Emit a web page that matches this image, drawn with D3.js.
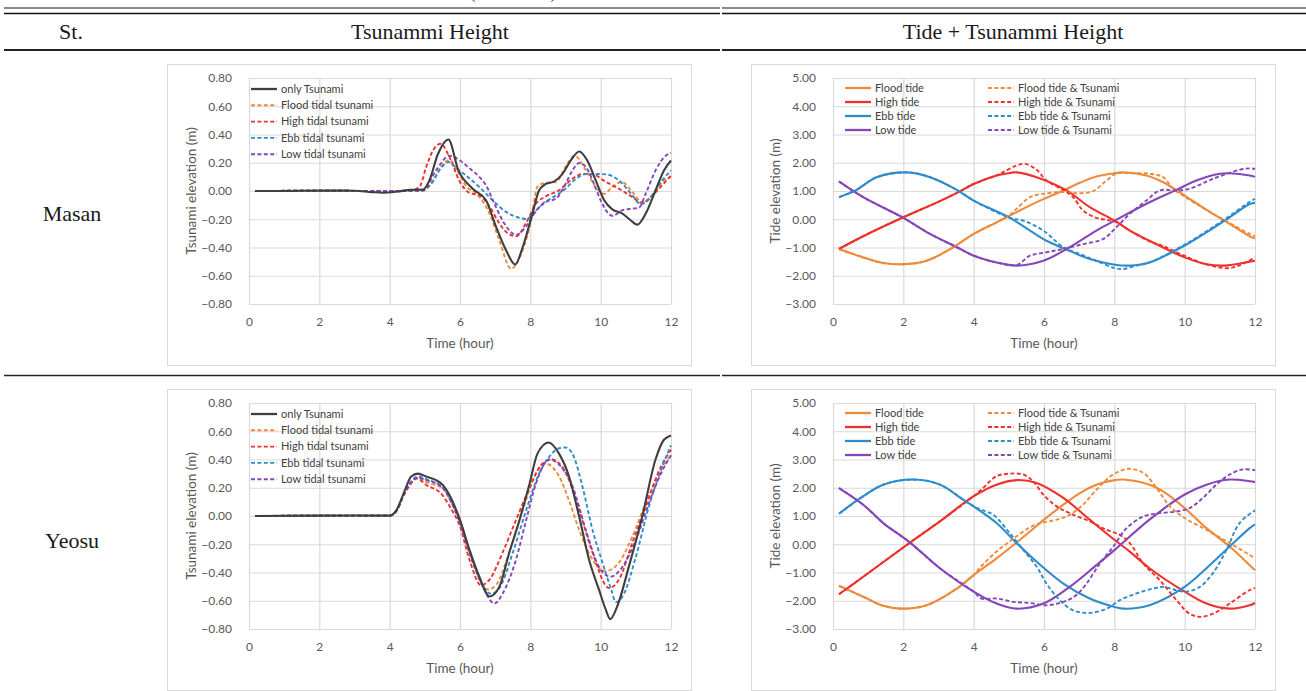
<!DOCTYPE html>
<html>
<head>
<meta charset="utf-8">
<script src="https://cdn.jsdelivr.net/npm/d3@7"></script>
<style>
  body { margin: 0; background: #fff; }
  svg { display: block; }
</style>
</head>
<body>
<script>
// ---- data: [time (hour), elevation (m)] ----
const timeTicks = [0, 2, 4, 6, 8, 10, 12];
const tsunamiTicks = [-0.8, -0.6, -0.4, -0.2, 0, 0.2, 0.4, 0.6, 0.8];
const tideTicks = [-3, -2, -1, 0, 1, 2, 3, 4, 5];
const stations = ["Masan", "Yeosu"];
const headers = ["St.", "Tsunammi Height", "Tide + Tsunammi Height"];

const masanOnly = [[0.17,0],[1,0],[2,0.003],[3,0.002],[3.5,-0.008],[3.8,-0.012],[4.2,-0.005],[4.6,0.008],[4.95,0.01],[5.13,0.075],[5.37,0.26],[5.67,0.365],[5.95,0.15],[6.36,0.016],[6.74,-0.066],[7.02,-0.25],[7.31,-0.42],[7.57,-0.52],[7.78,-0.40],[8.06,-0.16],[8.25,0.005],[8.44,0.05],[8.68,0.068],[8.91,0.12],[9.15,0.216],[9.39,0.28],[9.62,0.216],[9.86,0.075],[10.1,-0.066],[10.33,-0.13],[10.62,-0.16],[10.85,-0.207],[11.04,-0.238],[11.28,-0.16],[11.56,0.005],[11.8,0.146],[12,0.216]];
const masanFlood = [[0.17,0],[2,0.002],[4,0],[4.95,0.005],[5.23,0.064],[5.46,0.17],[5.7,0.22],[5.95,0.13],[6.19,0.03],[6.47,-0.02],[6.84,-0.16],[7.12,-0.35],[7.45,-0.55],[7.78,-0.42],[8.02,-0.21],[8.2,0.03],[8.4,0.056],[8.73,0.064],[9.0,0.17],[9.25,0.25],[9.58,0.146],[9.86,0.028],[10.1,-0.02],[10.33,0.028],[10.6,0.064],[10.9,-0.007],[11.18,-0.078],[11.47,-0.04],[11.75,0.064],[12,0.10]];
const masanHigh = [[0.17,0],[2,0.002],[4,0],[4.6,0.005],[4.85,0.03],[5.04,0.17],[5.23,0.287],[5.45,0.334],[5.7,0.24],[6.0,0.064],[6.27,-0.014],[6.55,-0.03],[6.84,-0.11],[7.12,-0.23],[7.36,-0.30],[7.6,-0.32],[7.87,-0.23],[8.16,-0.09],[8.44,-0.038],[8.82,0.005],[9.2,0.087],[9.48,0.12],[9.77,0.118],[10.15,0.064],[10.52,0.016],[10.9,-0.042],[11.18,-0.085],[11.47,-0.03],[11.75,0.04],[12,0.11]];
const masanEbb = [[0.17,0],[2,0.002],[4,0],[4.92,0.003],[5.2,0.06],[5.45,0.16],[5.68,0.205],[5.9,0.16],[6.17,0.11],[6.55,0.028],[6.93,-0.066],[7.31,-0.148],[7.69,-0.19],[7.88,-0.198],[8.06,-0.17],[8.35,-0.09],[8.63,-0.047],[9.0,0.016],[9.3,0.087],[9.58,0.12],[9.95,0.12],[10.15,0.118],[10.52,0.075],[10.9,-0.03],[11.14,-0.094],[11.42,-0.042],[11.75,0.075],[12,0.146]];
const masanLow = [[0.17,0],[2,0.002],[4,0],[4.95,0.003],[5.32,0.146],[5.7,0.25],[6.0,0.216],[6.32,0.15],[6.55,0.1],[6.74,0.04],[6.98,-0.09],[7.26,-0.23],[7.6,-0.31],[7.88,-0.25],[8.16,-0.14],[8.44,-0.078],[8.73,-0.054],[9.0,0.05],[9.2,0.146],[9.39,0.198],[9.58,0.17],[9.81,0.05],[10.0,-0.066],[10.24,-0.165],[10.33,-0.176],[10.62,-0.136],[10.9,-0.125],[11.09,-0.118],[11.28,-0.02],[11.56,0.146],[11.85,0.25],[12,0.27]];

const yeosuOnly = [[0.17,0],[2,0.003],[3,0.004],[4,0.003],[4.19,0.04],[4.43,0.18],[4.61,0.28],[4.8,0.30],[5.04,0.28],[5.32,0.254],[5.51,0.22],[5.7,0.148],[6.0,-0.028],[6.27,-0.24],[6.55,-0.43],[6.84,-0.57],[7.12,-0.5],[7.4,-0.26],[7.69,-0.03],[7.98,0.23],[8.2,0.44],[8.52,0.52],[8.82,0.44],[9.1,0.28],[9.39,-0.005],[9.67,-0.31],[9.95,-0.52],[10.14,-0.66],[10.27,-0.73],[10.47,-0.64],[10.8,-0.36],[11.18,-0.005],[11.56,0.40],[11.8,0.54],[12,0.57]];
const yeosuFlood = [[0.17,0],[2,0.003],[4,0.002],[4.19,0.035],[4.43,0.16],[4.8,0.27],[5.04,0.24],[5.51,0.195],[5.75,0.1],[6.0,-0.05],[6.36,-0.33],[6.79,-0.52],[7.02,-0.49],[7.4,-0.26],[7.78,0.04],[8.16,0.3],[8.44,0.37],[8.82,0.28],[9.1,0.11],[9.39,-0.1],[9.77,-0.31],[10.14,-0.39],[10.52,-0.33],[10.9,-0.146],[11.28,0.09],[11.66,0.3],[12,0.43]];
const yeosuHigh = [[0.17,0],[2,0.002],[4,0.002],[4.19,0.035],[4.43,0.16],[4.78,0.265],[5.04,0.22],[5.5,0.148],[5.75,0.05],[6.0,-0.075],[6.27,-0.31],[6.6,-0.49],[6.84,-0.45],[7.21,-0.26],[7.59,-0.03],[7.98,0.2],[8.3,0.36],[8.6,0.4],[9.02,0.30],[9.39,0.04],[9.77,-0.26],[10.24,-0.51],[10.52,-0.45],[10.9,-0.19],[11.28,0.066],[11.66,0.32],[12,0.47]];
const yeosuEbb = [[0.17,0],[2,0.002],[4,0.002],[4.19,0.04],[4.43,0.17],[4.8,0.28],[5.04,0.26],[5.51,0.2],[5.75,0.1],[6.0,-0.04],[6.3,-0.27],[6.6,-0.47],[6.88,-0.55],[7.12,-0.51],[7.5,-0.26],[7.88,0.04],[8.25,0.3],[8.54,0.42],[8.82,0.48],[9.0,0.485],[9.2,0.44],[9.48,0.21],[9.77,-0.1],[10.05,-0.33],[10.3,-0.52],[10.43,-0.61],[10.62,-0.57],[11.0,-0.29],[11.37,0.066],[11.75,0.35],[12,0.5]];
const yeosuLow = [[0.17,0],[2,0.002],[4,0.002],[4.19,0.035],[4.43,0.17],[4.8,0.27],[5.04,0.255],[5.51,0.2],[5.75,0.1],[6.0,-0.05],[6.3,-0.28],[6.65,-0.5],[6.98,-0.62],[7.21,-0.55],[7.59,-0.31],[7.88,-0.03],[8.16,0.23],[8.54,0.40],[8.87,0.35],[9.2,0.21],[9.58,-0.1],[9.95,-0.36],[10.28,-0.43],[10.62,-0.36],[11.0,-0.17],[11.37,0.09],[11.75,0.32],[12,0.43]];

const masanFloodTide = [[0.17,-1.05],[0.86,-1.35],[1.43,-1.55],[2.05,-1.59],[2.66,-1.47],[3.42,-0.99],[4.0,-0.52],[4.65,-0.11],[5.03,0.13],[5.6,0.49],[6.0,0.72],[6.55,1.02],[7.02,1.29],[7.49,1.51],[8.01,1.63],[8.25,1.66],[8.91,1.55],[9.39,1.31],[10.0,0.84],[10.62,0.33],[11.14,-0.06],[11.85,-0.6],[12,-0.68]];
const masanFloodTsu = [[0.17,-1.05],[0.86,-1.35],[1.43,-1.55],[2.05,-1.59],[2.66,-1.47],[3.42,-0.99],[4.0,-0.52],[4.65,-0.11],[5.03,0.15],[5.22,0.37],[5.6,0.78],[5.98,0.9],[6.55,0.96],[7.02,0.92],[7.4,1.0],[7.78,1.37],[8.06,1.62],[8.44,1.63],[9.0,1.61],[9.39,1.49],[9.67,1.08],[10.0,0.8],[10.62,0.33],[11.14,-0.04],[11.85,-0.52],[12,-0.6]];
const masanHighTide = [[0.17,-1.05],[0.86,-0.6],[2.0,0.07],[3.04,0.64],[3.66,1.02],[4.0,1.25],[4.65,1.55],[5.03,1.64],[5.22,1.66],[5.79,1.49],[6.64,1.02],[7.3,0.43],[8.01,-0.05],[8.44,-0.4],[9.0,-0.76],[10.0,-1.35],[10.62,-1.59],[11.14,-1.64],[11.85,-1.5],[12,-1.47]];
const masanHighTsu = [[0.17,-1.05],[0.86,-0.6],[2.0,0.07],[3.04,0.64],[3.66,1.02],[4.0,1.25],[4.65,1.55],[4.84,1.67],[5.22,1.9],[5.46,1.96],[5.79,1.75],[6.07,1.37],[6.55,1.04],[6.83,0.78],[7.11,0.31],[7.49,0.05],[7.78,-0.02],[8.06,-0.1],[8.44,-0.4],[9.0,-0.78],[9.39,-0.95],[10.0,-1.3],[10.62,-1.6],[11.28,-1.73],[11.7,-1.55],[12,-1.35]];
const masanEbbTide = [[0.17,0.78],[0.67,1.04],[1.24,1.49],[2.09,1.66],[2.76,1.49],[3.52,1.04],[4.0,0.66],[5.03,0.05],[5.6,-0.4],[6.07,-0.76],[6.73,-1.12],[7.3,-1.41],[8.01,-1.61],[8.44,-1.64],[9.0,-1.53],[10.0,-0.93],[11.14,-0.05],[11.85,0.54],[12,0.58]];
const masanEbbTsu = [[0.17,0.78],[0.67,1.04],[1.24,1.49],[2.09,1.66],[2.76,1.49],[3.52,1.04],[4.0,0.66],[5.03,0.05],[5.41,-0.05],[5.98,-0.4],[6.55,-0.99],[7.02,-1.23],[7.49,-1.47],[8.01,-1.73],[8.25,-1.76],[8.63,-1.64],[9.0,-1.53],[10.0,-0.9],[11.14,0.0],[11.85,0.62],[12,0.72]];
const masanLowTide = [[0.17,1.34],[0.86,0.78],[2.0,0.05],[2.76,-0.52],[3.52,-0.99],[4.0,-1.29],[4.65,-1.53],[5.22,-1.64],[5.98,-1.47],[6.73,-0.99],[7.49,-0.4],[8.01,-0.05],[9.0,0.6],[9.77,1.04],[10.33,1.37],[11.0,1.61],[11.28,1.63],[11.85,1.55],[12,1.5]];
const masanLowTsu = [[0.17,1.34],[0.86,0.78],[2.0,0.05],[2.76,-0.52],[3.52,-0.99],[4.0,-1.29],[4.65,-1.53],[5.22,-1.62],[5.6,-1.29],[6.07,-1.17],[6.55,-1.05],[7.11,-0.88],[7.68,-0.7],[8.06,-0.28],[8.44,0.19],[8.91,0.66],[9.29,1.02],[9.77,1.02],[10.14,1.08],[10.8,1.43],[11.56,1.75],[11.85,1.8],[12,1.78]];

const yeosuFloodTide = [[0.17,-1.47],[0.86,-1.86],[1.43,-2.18],[1.95,-2.28],[2.66,-2.16],[3.52,-1.57],[4.0,-1.09],[4.65,-0.5],[5.08,-0.08],[5.6,0.45],[6.0,0.87],[6.55,1.4],[7.02,1.81],[7.49,2.11],[8.01,2.27],[8.25,2.29],[9.0,2.11],[9.39,1.87],[10.0,1.28],[10.62,0.57],[11.28,-0.08],[11.85,-0.74],[12,-0.92]];
const yeosuFloodTsu = [[0.17,-1.47],[0.86,-1.86],[1.43,-2.18],[1.95,-2.28],[2.66,-2.16],[3.52,-1.57],[4.0,-1.09],[4.22,-0.77],[4.65,-0.26],[5.08,0.15],[5.6,0.6],[5.98,0.77],[6.36,0.87],[6.73,1.04],[7.11,1.4],[7.49,1.93],[7.97,2.47],[8.39,2.67],[8.82,2.53],[9.2,1.99],[9.58,1.34],[10.0,0.93],[10.62,0.51],[11.28,0.04],[11.85,-0.38],[12,-0.5]];
const yeosuHighTide = [[0.17,-1.77],[0.86,-1.15],[2.19,0.06],[3.04,0.81],[4.0,1.7],[4.65,2.11],[5.22,2.27],[5.79,2.17],[6.55,1.64],[7.3,0.87],[8.01,0.15],[8.44,-0.26],[9.0,-0.85],[10.0,-1.68],[10.62,-2.1],[11.28,-2.28],[11.85,-2.16],[12,-2.08]];
const yeosuHighTsu = [[0.17,-1.77],[0.86,-1.15],[2.19,0.06],[3.04,0.81],[4.0,1.7],[4.22,1.93],[4.65,2.41],[5.03,2.5],[5.41,2.47],[5.69,2.23],[5.98,1.76],[6.36,1.34],[6.73,1.1],[7.3,0.81],[7.78,0.51],[8.16,0.33],[8.44,0.04],[8.82,-0.68],[9.29,-1.27],[9.77,-1.98],[10.14,-2.46],[10.48,-2.57],[10.9,-2.4],[11.28,-2.1],[11.85,-1.62],[12,-1.55]];
const yeosuEbbTide = [[0.17,1.08],[0.86,1.7],[1.43,2.11],[2.28,2.29],[3.04,2.11],[3.7,1.58],[4.0,1.34],[4.65,0.75],[5.22,0.04],[5.79,-0.62],[6.55,-1.39],[7.3,-1.92],[8.01,-2.22],[8.25,-2.28],[9.0,-2.16],[10.0,-1.51],[10.62,-0.85],[11.28,-0.08],[11.85,0.57],[12,0.7]];
const yeosuEbbTsu = [[0.17,1.08],[0.86,1.7],[1.43,2.11],[2.28,2.29],[3.04,2.11],[3.7,1.58],[4.0,1.34],[4.22,1.22],[4.56,1.04],[5.03,0.39],[5.41,-0.2],[5.79,-0.79],[6.07,-1.39],[6.45,-1.98],[6.83,-2.34],[7.3,-2.43],[7.78,-2.28],[8.16,-1.98],[8.63,-1.74],[9.1,-1.57],[9.39,-1.51],[9.77,-1.63],[10.05,-1.68],[10.43,-1.51],[10.8,-1.03],[11.19,-0.2],[11.56,0.75],[12,1.2]];
const yeosuLowTide = [[0.17,1.99],[0.86,1.4],[1.43,0.75],[2.19,0.06],[3.04,-0.85],[4.0,-1.68],[4.65,-2.1],[5.22,-2.28],[5.98,-2.1],[6.73,-1.51],[7.49,-0.74],[8.01,-0.2],[9.0,0.87],[10.0,1.76],[10.62,2.11],[11.28,2.29],[11.85,2.23],[12,2.2]];
const yeosuLowTsu = [[0.17,1.99],[0.86,1.4],[1.43,0.75],[2.19,0.06],[3.04,-0.85],[4.0,-1.68],[4.22,-1.92],[4.65,-1.92],[5.13,-2.04],[5.6,-2.08],[6.07,-2.16],[6.55,-2.04],[6.92,-1.8],[7.21,-1.39],[7.59,-0.68],[7.97,-0.08],[8.35,0.57],[8.82,0.98],[9.29,1.1],[9.77,1.16],[10.14,1.28],[10.52,1.64],[10.9,2.11],[11.28,2.47],[11.66,2.65],[12,2.62]];

const tsunamiNames = ["only Tsunami", "Flood tidal tsunami", "High tidal tsunami", "Ebb tidal tsunami", "Low tidal tsunami"];
const tideNames = ["Flood tide", "High tide", "Ebb tide", "Low tide"];
const tideTsuNames = ["Flood tide & Tsunami", "High tide & Tsunami", "Ebb tide & Tsunami", "Low tide & Tsunami"];

// ---- styles ----
const cBlack = "#3f3f3f", cOrange = "#ee8a3c", cRed = "#f0302c", cBlue = "#2f8ccb", cPurple = "#8446b8";
const tideColors = [cOrange, cRed, cBlue, cPurple];
const dash = "4,2.4";

const W = 1306, H = 691;
const svg = d3.select("body").append("svg").attr("width", W).attr("height", H);
const serif = "'Liberation Serif', 'Times New Roman', serif";
const sans = "Lato, 'Open Sans', sans-serif";

// ---- table frame ----
// caption of the table sits above the crop; only its bottom shows
svg.append("text").attr("x", 513).attr("y", -2).attr("text-anchor", "middle")
  .style("font-family", serif).style("font-size", "18px").attr("fill", "#333").text("(Continued)");

function hline(y, w, col) {
  svg.append("line").attr("x1", 4).attr("x2", 720).attr("y1", y).attr("y2", y)
    .attr("stroke", col).attr("stroke-width", w);
  svg.append("line").attr("x1", 722).attr("x2", W).attr("y1", y).attr("y2", y)
    .attr("stroke", col).attr("stroke-width", w);
}
hline(8, 2, "#8a8a8a");
hline(13.5, 1.3, "#111");
hline(50, 2, "#222");
hline(375.5, 1.3, "#222");

const headerX = [71, 430, 1013];
headers.forEach((h, i) => {
  svg.append("text").attr("x", headerX[i]).attr("y", 39).attr("text-anchor", "middle")
    .style("font-family", serif).style("font-size", "22px").attr("fill", "#1a1a1a").text(h);
});
const stationY = [221, 548];
stations.forEach((s, i) => {
  svg.append("text").attr("x", 72).attr("y", stationY[i]).attr("text-anchor", "middle")
    .style("font-family", serif).style("font-size", "22px").attr("fill", "#1a1a1a").text(s);
});

// ---- chart panel ----
const FW = 524, FH = 301;
const PL = 82, PR = 504, PT = 14, PB = 240;

function panel(fx, fy, cfg) {
  const g = svg.append("g").attr("transform", `translate(${fx},${fy})`);
  g.append("rect").attr("x", 0.5).attr("y", 0.5).attr("width", FW).attr("height", FH)
    .attr("fill", "#fff").attr("stroke", "#d9d9d9").attr("stroke-width", 1);

  const x = d3.scaleLinear().domain([0, 12]).range([PL, PR]);
  const y = d3.scaleLinear().domain(cfg.domain).range([PB, PT]);

  const gx = g.append("g").attr("transform", `translate(0,${PB})`)
    .call(d3.axisBottom(x).tickValues(timeTicks).tickSize(-(PB - PT)).tickPadding(13).tickFormat(d => d));
  const gy = g.append("g").attr("transform", `translate(${PL},0)`)
    .call(d3.axisLeft(y).tickValues(cfg.ticks).tickSize(-(PR - PL)).tickPadding(17).tickFormat(d3.format(".2f")));
  [gx, gy].forEach(a => {
    a.select(".domain").remove();
    a.selectAll(".tick line").attr("stroke", "#d9d9d9").attr("stroke-width", 1.2);
    a.selectAll(".tick text").attr("fill", "#595959").style("font-family", sans).style("font-size", "12px");
  });

  g.append("text").attr("x", (PL + PR) / 2).attr("y", 284).attr("text-anchor", "middle")
    .style("font-family", sans).style("font-size", "13.5px").attr("fill", "#595959").text("Time (hour)");
  g.append("text").attr("transform", `translate(29,${(PT + PB) / 2}) rotate(-90)`).attr("text-anchor", "middle")
    .style("font-family", sans).style("font-size", "13.5px").attr("fill", "#595959").text(cfg.ytitle);

  const line = d3.line().x(d => x(d[0])).y(d => y(d[1])).curve(cfg.curve);
  cfg.series.forEach(s => {
    g.append("path").datum(s.data).attr("d", line).attr("fill", "none")
      .attr("stroke", s.color).attr("stroke-width", s.dashed ? 1.9 : 2.1)
      .attr("stroke-dasharray", s.dashed ? dash : null);
  });

  cfg.legend.forEach(l => {
    g.append("line").attr("x1", l.x).attr("x2", l.x + 26).attr("y1", l.y).attr("y2", l.y)
      .attr("stroke", l.color).attr("stroke-width", l.dashed ? 1.9 : 2.3)
      .attr("stroke-dasharray", l.dashed ? dash : null);
    g.append("text").attr("x", l.x + 30).attr("y", l.y).attr("dy", "0.35em")
      .style("font-family", sans).style("font-size", "11px").attr("fill", "#404040").text(l.name);
  });
}

function tsunamiCfg(only, flood, high, ebb, low) {
  const cols = [cBlack, cOrange, cRed, cBlue, cPurple];
  return {
    domain: [-0.8, 0.8], ticks: tsunamiTicks, ytitle: "Tsunami elevation (m)",
    curve: d3.curveMonotoneX,
    series: [
      { data: flood, color: cOrange, dashed: true },
      { data: high, color: cRed, dashed: true },
      { data: ebb, color: cBlue, dashed: true },
      { data: low, color: cPurple, dashed: true },
      { data: only, color: cBlack, dashed: false }
    ],
    legend: tsunamiNames.map((n, i) => ({ name: n, color: cols[i], dashed: i > 0, x: 84, y: 25 + i * 16.3 }))
  };
}
function tideCfg(tides, tsus) {
  return {
    domain: [-3, 5], ticks: tideTicks, ytitle: "Tide elevation (m)",
    curve: d3.curveCatmullRom.alpha(0.5),
    series: tides.map((d, i) => ({ data: d, color: tideColors[i], dashed: false }))
      .concat(tsus.map((d, i) => ({ data: d, color: tideColors[i], dashed: true }))),
    legend: tideNames.map((n, i) => ({ name: n, color: tideColors[i], dashed: false, x: 94, y: 24 + i * 14 }))
      .concat(tideTsuNames.map((n, i) => ({ name: n, color: tideColors[i], dashed: true, x: 237, y: 24 + i * 14 })))
  };
}

panel(167, 64, tsunamiCfg(masanOnly, masanFlood, masanHigh, masanEbb, masanLow));
panel(751, 64, tideCfg([masanFloodTide, masanHighTide, masanEbbTide, masanLowTide],
                        [masanFloodTsu, masanHighTsu, masanEbbTsu, masanLowTsu]));
panel(167, 389, tsunamiCfg(yeosuOnly, yeosuFlood, yeosuHigh, yeosuEbb, yeosuLow));
panel(751, 389, tideCfg([yeosuFloodTide, yeosuHighTide, yeosuEbbTide, yeosuLowTide],
                        [yeosuFloodTsu, yeosuHighTsu, yeosuEbbTsu, yeosuLowTsu]));
</script>
</body>
</html>
